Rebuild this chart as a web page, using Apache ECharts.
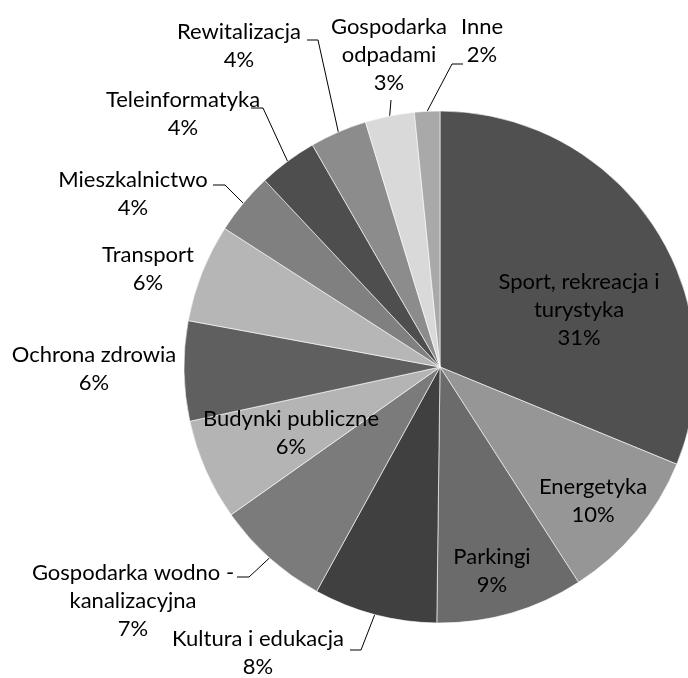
<!DOCTYPE html>
<html>
<head>
<meta charset="utf-8">
<script src="https://cdn.jsdelivr.net/npm/echarts@6/dist/echarts.min.js"></script>
<style>
  html, body { margin: 0; padding: 0; background: #fff; }
  #chart { width: 688px; height: 678px; }
</style>
</head>
<body>
<div id="chart"></div>
<script>
// kategorie i udzialy (%)
const categories = ['Sport, rekreacja i turystyka', 'Energetyka', 'Parkingi', 'Kultura i edukacja',
  'Gospodarka wodno - kanalizacyjna', 'Budynki publiczne', 'Ochrona zdrowia', 'Transport',
  'Mieszkalnictwo', 'Teleinformatyka', 'Rewitalizacja', 'Gospodarka odpadami', 'Inne']
const values = [31.2, 9.7, 9.3, 7.8, 7.2, 6.4, 6.3, 6.2, 3.9, 3.7, 3.6, 3.1, 1.6]
const colors = ['#505050', '#969696', '#6b6b6b', '#404040', '#7b7b7b', '#b4b4b4', '#5f5f5f',
  '#b6b6b6', '#808080', '#4e4e4e', '#8c8c8c', '#d9d9d9', '#a9a9a9']

// zawijanie etykiet jak w Excelu
const wrapped = {
  'Sport, rekreacja i turystyka': 'Sport, rekreacja i\nturystyka',
  'Gospodarka wodno - kanalizacyjna': 'Gospodarka wodno -\nkanalizacyjna',
  'Gospodarka odpadami': 'Gospodarka\nodpadami'
}
const inside = [0, 1, 2, 5]
const noLine = [6, 7]

// polozenie etykiet (srodek bloku tekstu)
const labelPos = [
  [579, 310], [593, 501], [492, 571], [258, 653], [133, 601], [291, 433], [94, 369],
  [148, 269], [133, 194], [183, 114], [239, 46], [389, 55], [482, 41]
]
// zalamanie linii odniesienia
const leader = [null, null, null,
  [[361, 650], [350, 650]],
  [[249, 577], [237, 577]],
  null, null, null,
  [[225, 185], [213, 185]],
  [[263, 108], [251, 108]],
  [[318, 40], [307, 40]],
  [[391, 100], [391, 100]],
  [[452, 64], [463, 64]]
]

const chart = echarts.init(document.getElementById('chart'))
chart.setOption({
  animation: false,
  series: [{
    type: 'pie',
    center: [440, 367],
    radius: 256,
    startAngle: 90,
    avoidLabelOverlap: false,
    itemStyle: { borderColor: '#fff', borderWidth: 0.6 },
    label: {
      color: '#000',
      fontFamily: 'Lato',
      fontSize: 22,
      lineHeight: 28,
      align: 'center',
      formatter: p => (wrapped[p.name] || p.name) + '\n' + Math.round(p.percent) + '%'
    },
    labelLine: { show: true, lineStyle: { color: '#000', width: 1 } },
    labelLayout: function (params) {
      const i = params.dataIndex
      const res = { x: labelPos[i][0], y: labelPos[i][1], align: 'center', verticalAlign: 'middle' }
      if (leader[i] && params.labelLinePoints) {
        res.labelLinePoints = [params.labelLinePoints[0], leader[i][0], leader[i][1]]
      }
      return res
    },
    data: categories.map((name, i) => ({
      name: name,
      value: values[i],
      itemStyle: { color: colors[i] },
      label: { position: inside.includes(i) ? 'inside' : 'outside' },
      labelLine: { show: !inside.includes(i) && !noLine.includes(i) }
    }))
  }]
})
</script>
</body>
</html>
